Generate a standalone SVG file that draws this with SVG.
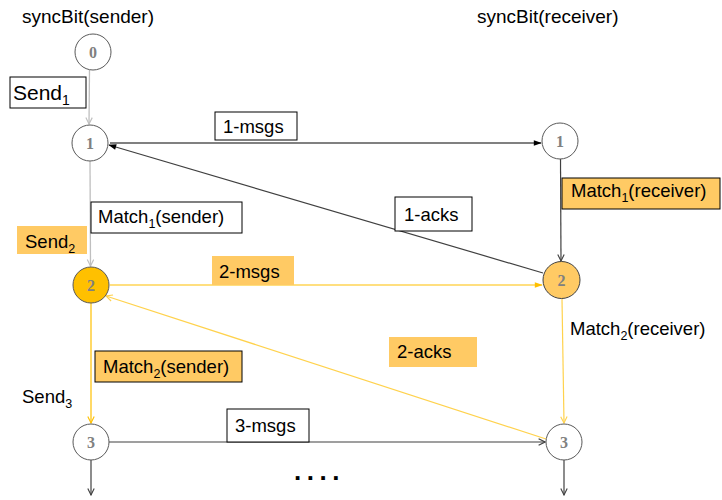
<svg xmlns="http://www.w3.org/2000/svg" width="722" height="500" viewBox="0 0 722 500">
<style>
.t{font-family:"Liberation Sans",Arial,sans-serif;fill:#000}
.n{fill:#fff;stroke:#595959;stroke-width:1}
.d{font-family:"Liberation Serif","Times New Roman",serif;font-weight:bold;font-size:16px;fill:#808080;text-anchor:middle}
.bw{fill:#fff;stroke:#000;stroke-width:1}
.by{fill:#FFCA64;stroke:#000;stroke-width:1}
.byn{fill:#FFCA64}
.lg{stroke:#BFBFBF;stroke-width:1.3;fill:none}
.ly{stroke:#FFC000;stroke-width:1.2;fill:none}
.lly{stroke:#FFD24D;stroke-width:1.2;fill:none}
.lk{stroke:#404040;stroke-width:1.2;fill:none}
.lm{stroke:#808080;stroke-width:1.8;fill:none}
</style>
<defs>
<marker id="og" viewBox="0 0 10 10" refX="9" refY="5" markerWidth="8" markerHeight="8" markerUnits="userSpaceOnUse" orient="auto"><path d="M1,1 L9,5 L1,9" fill="none" stroke="#BFBFBF" stroke-width="1.4"/></marker>
<marker id="oy" viewBox="0 0 10 10" refX="9" refY="5" markerWidth="8" markerHeight="8" markerUnits="userSpaceOnUse" orient="auto"><path d="M1,1 L9,5 L1,9" fill="none" stroke="#FFC000" stroke-width="1.4"/></marker>
<marker id="oly" viewBox="0 0 10 10" refX="9" refY="5" markerWidth="8" markerHeight="8" markerUnits="userSpaceOnUse" orient="auto"><path d="M1,1 L9,5 L1,9" fill="none" stroke="#FFD24D" stroke-width="1.4"/></marker>
<marker id="ok" viewBox="0 0 10 10" refX="9" refY="5" markerWidth="8" markerHeight="8" markerUnits="userSpaceOnUse" orient="auto"><path d="M1,1 L9,5 L1,9" fill="none" stroke="#404040" stroke-width="1.4"/></marker>
<marker id="fk" viewBox="0 0 10 10" refX="9" refY="5" markerWidth="9" markerHeight="8" markerUnits="userSpaceOnUse" orient="auto"><path d="M0,1.5 L10,5 L0,8.5 Z" fill="#000"/></marker>
<marker id="fy" viewBox="0 0 10 10" refX="9" refY="5" markerWidth="9" markerHeight="8" markerUnits="userSpaceOnUse" orient="auto"><path d="M0,1.5 L10,5 L0,8.5 Z" fill="#FFC000"/></marker>
</defs>

<text class="t" x="22" y="23" font-size="19">syncBit(sender)</text>
<text class="t" x="477" y="23" font-size="19">syncBit(receiver)</text>

<g id="connectors">
<line class="lg" x1="89.5" y1="70" x2="89" y2="124" marker-end="url(#og)"/>
<line class="lg" x1="90" y1="161" x2="90.5" y2="266" marker-end="url(#og)"/>
<line class="ly" x1="91" y1="303" x2="91" y2="423" marker-end="url(#oy)"/>
<line class="lk" x1="91" y1="460" x2="91" y2="495" marker-end="url(#ok)"/>
<line class="lk" x1="560.5" y1="159" x2="561" y2="261" marker-end="url(#ok)"/>
<line class="lly" x1="562" y1="299" x2="564" y2="423" marker-end="url(#oly)"/>
<line class="lk" x1="564" y1="460" x2="564" y2="495" marker-end="url(#ok)"/>
<line class="lm" x1="110" y1="143" x2="541" y2="143" marker-end="url(#fk)"/>
<line class="lk" x1="543" y1="273" x2="109" y2="145" marker-end="url(#fk)"/>
<line class="ly" x1="110" y1="285" x2="542" y2="285" marker-end="url(#fy)"/>
<line class="lly" x1="546" y1="439" x2="106" y2="296" marker-end="url(#oly)"/>
<line class="lk" x1="109" y1="442" x2="545" y2="442" marker-end="url(#ok)"/>
</g>

<g id="s0"><circle class="n" cx="93" cy="52" r="18"/><text class="d" x="93" y="57.5">0</text></g>
<g id="s1"><circle class="n" cx="90" cy="143" r="18"/><text class="d" x="90" y="148.5">1</text></g>
<g id="s2"><circle cx="91" cy="285" r="18" fill="#FFC000" stroke="#595959"/><text class="d" x="91" y="290.5">2</text></g>
<g id="s3"><circle class="n" cx="91" cy="442" r="18"/><text class="d" x="91" y="447.5">3</text></g>
<g id="r1"><circle class="n" cx="560" cy="141" r="18"/><text class="d" x="560" y="146.5">1</text></g>
<g id="r2"><circle cx="561.5" cy="280" r="18.5" fill="#FFCA64" stroke="#404040"/><text class="d" x="561.5" y="285.5">2</text></g>
<g id="r3"><circle class="n" cx="564" cy="442" r="18"/><text class="d" x="564" y="447.5">3</text></g>

<g id="send1"><rect class="bw" x="10" y="77" width="76" height="31"/><text class="t" x="13" y="100" font-size="21">Send<tspan font-size="14" dy="5">1</tspan></text></g>
<g id="msgs1"><rect class="bw" x="215" y="112" width="82" height="28"/><text class="t" x="223" y="133" font-size="18.5">1-msgs</text></g>
<g id="match1r"><rect class="by" x="562" y="178" width="158" height="31"/><text class="t" x="571" y="197" font-size="18.5">Match<tspan font-size="12.5" dy="5">1</tspan><tspan dy="-5">(receiver)</tspan></text></g>
<g id="match1s"><rect class="bw" x="91" y="202" width="151" height="31"/><text class="t" x="98" y="223" font-size="18.5">Match<tspan font-size="12.5" dy="5">1</tspan><tspan dy="-5">(sender)</tspan></text></g>
<g id="acks1"><rect class="bw" x="395" y="197" width="77" height="34"/><text class="t" x="404" y="221" font-size="18.5">1-acks</text></g>
<g id="send2"><rect class="byn" x="17" y="226" width="70" height="28"/><text class="t" x="25" y="248" font-size="18.5">Send<tspan font-size="12.5" dy="5">2</tspan></text></g>
<g id="msgs2"><rect class="byn" x="212" y="256" width="82" height="29"/><text class="t" x="219" y="278" font-size="18.5">2-msgs</text></g>
<g id="match2r"><text class="t" x="570" y="335" font-size="18.5">Match<tspan font-size="12.5" dy="5">2</tspan><tspan dy="-5">(receiver)</tspan></text></g>
<g id="acks2"><rect class="byn" x="389" y="337" width="88" height="30"/><text class="t" x="397" y="358" font-size="18.5">2-acks</text></g>
<g id="match2s"><rect class="by" x="95" y="351" width="147" height="31" stroke="#404040"/><text class="t" x="103" y="373" font-size="18.5">Match<tspan font-size="12.5" dy="5">2</tspan><tspan dy="-5">(sender)</tspan></text></g>
<g id="send3"><text class="t" x="22" y="403" font-size="18.5">Send<tspan font-size="12.5" dy="5">3</tspan></text></g>
<g id="msgs3"><rect class="bw" x="227" y="409" width="82" height="33"/><text class="t" x="235" y="432" font-size="18.5">3-msgs</text></g>
<text class="t" x="294" y="480" font-size="26" font-weight="bold" letter-spacing="5.5">....</text>
</svg>
